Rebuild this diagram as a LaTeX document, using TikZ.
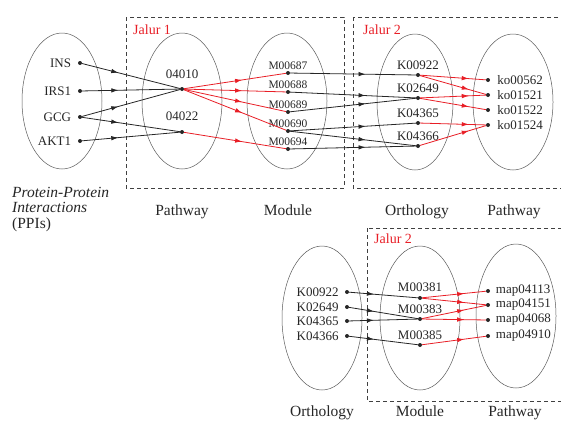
\documentclass[tikz,border=0pt]{standalone}
\usepackage{fontspec}
\setmainfont{Liberation Serif}
\usetikzlibrary{arrows.meta,shapes.geometric,decorations.markings}
\definecolor{jred}{RGB}{232,30,38}

\begin{document}
\begin{tikzpicture}[x=1pt, y=-1pt,
    set/.style={ellipse, draw=black!65, line width=0.5pt, minimum width=80pt, minimum height=136pt, inner sep=0pt},
    dot/.style={circle, fill=black!85, inner sep=0pt, minimum size=4pt},
    lab/.style={font=\fontsize{13}{15}\selectfont, inner sep=1pt, text=black!85},
    slab/.style={font=\fontsize{11.5}{13}\selectfont, inner sep=1pt, text=black!85},
    setname/.style={font=\fontsize{15.5}{15.5}\selectfont, text=black!85, inner sep=0pt, anchor=base},
    box/.style={draw=black!75, line width=0.8pt, dash pattern=on 4pt off 3pt},
    jalur/.style={font=\fontsize{14}{16}\selectfont, text=jred, anchor=west, inner sep=0pt},
    link/.style={color=black!85, line width=0.8pt},
    rlink/.style={color=jred, line width=0.8pt},
    arrat/.style={postaction={decorate, decoration={markings, mark=at position #1 with {\arrow{Latex[length=7pt,width=4.5pt]}}}}}]
    \clip (0,0) rectangle (561,421);

    % top row
    \node[set] (ppi) at (62,101) {};
    \node[set] (path1) at (182,101) {};
    \node[set] (mod1) at (287,101) {};
    \node[set, minimum width=76pt] (orth1) at (415,102) {};
    \node[set] (ko) at (513,102) {};

    \draw[box] (126,17) rectangle (344,188);
    \draw[box] (353,17) rectangle (575,188);
    \node[jalur] (j1) at (133,30) {Jalur 1};
    \node[jalur] (j2) at (363,30) {Jalur 2};

    \node[dot, label={[lab, label distance=5.5pt]left:INS}] (ins) at (80,63) {};
    \node[dot, label={[lab, label distance=5.5pt]left:IRS1}] (irs1) at (80,91) {};
    \node[dot, label={[lab, label distance=5.5pt]left:GCG}] (gcg) at (80,117) {};
    \node[dot, label={[lab, label distance=5.5pt]left:AKT1}] (akt1) at (80,141) {};

    \node[dot, label={[lab, label distance=6.5pt]above:04010}] (p04010) at (182,89) {};
    \node[dot, label={[lab, label distance=7.5pt]above:04022}] (p04022) at (182,132) {};

    \node[dot, label={[slab]above:M00687}] (m00687) at (288,73) {};
    \node[dot, label={[slab]above:M00688}] (m00688) at (288,92) {};
    \node[dot, label={[slab]above:M00689}] (m00689) at (288,112) {};
    \node[dot, label={[slab]above:M00690}] (m00690) at (288,131) {};
    \node[dot, label={[slab]above:M00694}] (m00694) at (288,149) {};

    \node[dot, label={[lab, label distance=1.5pt]above:K00922}] (k00922) at (418,75) {};
    \node[dot, label={[lab, label distance=1.5pt]above:K02649}] (k02649) at (418,98) {};
    \node[dot, label={[lab, label distance=1.5pt]above:K04365}] (k04365) at (418,123) {};
    \node[dot, label={[lab, label distance=1.5pt]above:K04366}] (k04366) at (418,146) {};

    \node[dot, label={[lab, label distance=6pt]right:ko00562}] (ko00562) at (488,80) {};
    \node[dot, label={[lab, label distance=6pt]right:ko01521}] (ko01521) at (488,95) {};
    \node[dot, label={[lab, label distance=6pt]right:ko01522}] (ko01522) at (488,110) {};
    \node[dot, label={[lab, label distance=6pt]right:ko01524}] (ko01524) at (488,125) {};

    \node[setname, anchor=north west, align=left] (ppicap) at (12,187) {\textit{Protein-Protein}\\\textit{Interactions}\\(PPIs)};
    \node[setname] (c1) at (182,215) {Pathway};
    \node[setname] (c2) at (288,215) {Module};
    \node[setname] (c3) at (417,215) {Orthology};
    \node[setname] (c4) at (514,215) {Pathway};

    \draw[link, arrat=0.37] (ins) -- (p04010);
    \draw[link, arrat=0.37] (irs1) -- (p04010);
    \draw[link, arrat=0.37] (gcg) -- (p04010);
    \draw[link, arrat=0.37] (gcg) -- (p04022);
    \draw[link, arrat=0.37] (akt1) -- (p04022);

    \draw[rlink, arrat=0.57] (p04010) -- (m00687);
    \draw[rlink, arrat=0.57] (p04010) -- (m00688);
    \draw[rlink, arrat=0.57] (p04010) -- (m00689);
    \draw[rlink, arrat=0.57] (p04010) -- (m00690);
    \draw[rlink, arrat=0.57] (p04022) -- (m00694);

    \draw[link, arrat=0.6] (m00687) -- (k00922);
    \draw[link, arrat=0.6] (m00688) -- (k02649);
    \draw[link, arrat=0.6] (m00689) -- (k02649);
    \draw[link, arrat=0.6] (m00690) -- (k04365);
    \draw[link, arrat=0.6] (m00690) -- (k04366);
    \draw[link, arrat=0.6] (m00694) -- (k04366);

    \draw[rlink, arrat=0.74] (k00922) -- (ko00562);
    \draw[rlink, arrat=0.74] (k00922) -- (ko01521);
    \draw[rlink, arrat=0.74] (k02649) -- (ko01521);
    \draw[rlink, arrat=0.74] (k02649) -- (ko01522);
    \draw[rlink, arrat=0.74] (k04365) -- (ko01524);
    \draw[rlink, arrat=0.74] (k04366) -- (ko01524);

    % bottom row
    \node[set, minimum height=144pt] (orth2) at (322,318) {};
    \node[set, minimum height=144pt] (mod2) at (420,318) {};
    \node[set, minimum height=144pt] (map) at (516,316) {};

    \draw[box] (367,228) rectangle (575,401);
    \node[jalur] (j3) at (374,239) {Jalur 2};

    \node[dot, label={[lab, label distance=5pt]left:K00922}] (k00922b) at (347,292) {};
    \node[dot, label={[lab, label distance=5pt]left:K02649}] (k02649b) at (347,307) {};
    \node[dot, label={[lab, label distance=5pt]left:K04365}] (k04365b) at (347,321) {};
    \node[dot, label={[lab, label distance=5pt]left:K04366}] (k04366b) at (347,336) {};

    \node[dot, label={[lab, label distance=2.5pt]above:M00381}] (m00381) at (420,298) {};
    \node[dot, label={[lab, label distance=1.5pt]above:M00383}] (m00383) at (420,319) {};
    \node[dot, label={[lab, label distance=1.5pt]above:M00385}] (m00385) at (420,345) {};

    \node[dot, label={[lab, label distance=4.5pt]right:map04113}] (map04113) at (488,291) {};
    \node[dot, label={[lab, label distance=4.5pt]right:map04151}] (map04151) at (488,305) {};
    \node[dot, label={[lab, label distance=4.5pt]right:map04068}] (map04068) at (488,320) {};
    \node[dot, label={[lab, label distance=4.5pt]right:map04910}] (map04910) at (488,336) {};

    \node[setname] (c5) at (322,416.5) {Orthology};
    \node[setname] (c6) at (420,416.5) {Module};
    \node[setname] (c7) at (515,416.5) {Pathway};

    \draw[link, arrat=0.36] (k00922b) -- (m00381);
    \draw[link, arrat=0.36] (k02649b) -- (m00383);
    \draw[link, arrat=0.36] (k04365b) -- (m00383);
    \draw[link, arrat=0.36] (k04366b) -- (m00385);

    \draw[rlink, arrat=0.66] (m00381) -- (map04113);
    \draw[rlink, arrat=0.66] (m00381) -- (map04151);
    \draw[rlink, arrat=0.66] (m00383) -- (map04151);
    \draw[rlink, arrat=0.66] (m00383) -- (map04068);
    \draw[rlink, arrat=0.66] (m00385) -- (map04910);
\end{tikzpicture}
\end{document}
